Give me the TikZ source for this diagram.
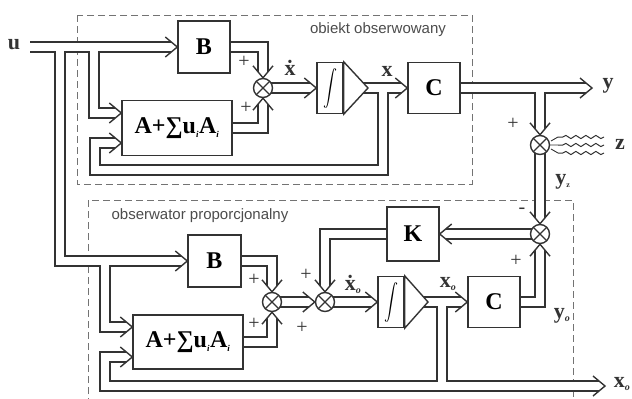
\documentclass[tikz,border=0pt]{standalone}
\usepackage{fontspec}
\setmainfont{Liberation Serif}
\newfontfamily\lsans{Liberation Sans}
\usepackage{graphicx}
\usetikzlibrary{calc,decorations.pathmorphing}
\pgfdeclarelayer{bg}
\pgfsetlayers{bg,main}
\colorlet{ink}{black!80}
\newcommand\chR[1]{\draw[chv] ($(#1)+(-12,-10)$) -- (#1) -- ($(#1)+(-12,10)$);}
\newcommand\chL[1]{\draw[chv] ($(#1)+(12,-10)$) -- (#1) -- ($(#1)+(12,10)$);}
\newcommand\chD[1]{\draw[chv] ($(#1)+(-10,-12)$) -- (#1) -- ($(#1)+(10,-12)$);}
\newcommand\chU[1]{\draw[chv] ($(#1)+(-10,12)$) -- (#1) -- ($(#1)+(10,12)$);}
\newcommand\subi{\textsubscript{\fontsize{9}{9}\selectfont\itshape i}}
\newcommand\subo{\textsubscript{\fontsize{10}{10}\selectfont\itshape o}}
\tikzset{
  blk/.style={draw=ink, line width=1.4pt, fill=white, inner sep=0pt,
    font=\fontsize{24}{24}\selectfont\bfseries},
  vec/.style={draw=ink, line width=1.4pt, double=white, double distance=8.6pt, line join=miter},
  chv/.style={draw=ink, line width=1.4pt, line join=miter},
  sumj/.style={circle, draw=ink, line width=1.4pt, fill=white, minimum size=19pt, inner sep=0pt,
    path picture={\draw[ink, line width=1.1pt]
      (path picture bounding box.north west) -- (path picture bounding box.south east)
      (path picture bounding box.south west) -- (path picture bounding box.north east);}},
  lbl/.style={font=\fontsize{22}{22}\selectfont\bfseries, inner sep=0pt, text=ink},
  pls/.style={font=\fontsize{20}{20}\selectfont, inner sep=0pt, text=ink},
  captxt/.style={font=\lsans\fontsize{15}{15}\selectfont, inner sep=0pt, text=black!70},
  dbox/.style={draw=black!55, line width=0.8pt, dash pattern=on 7pt off 4pt},
  wave/.style={draw=ink, line width=1pt, decorate, decoration={snake, amplitude=1.6pt, segment length=10pt}}
}
\begin{document}
\begin{tikzpicture}[x=1pt, y=-1pt]
\useasboundingbox (0,0) rectangle (632,399);
% upper part
\node[blk, minimum width=52pt, minimum height=52pt] (B1) at (204,47) {B};
\node[blk, minimum width=110pt, minimum height=55pt] (A1) at (177,128) {A+∑u\subi A\subi};
\node[sumj] (S1) at (263,88) {};
\node[blk, minimum width=26pt, minimum height=51pt] (I1) at (330,88) {\scalebox{1.4}[1.8]{$\displaystyle\int$}};
\coordinate (ap1) at (368,88);
\draw[blk] (I1.north east) -- (ap1) -- (I1.south east) -- cycle;
\node[blk, minimum width=52pt, minimum height=51pt] (C1) at (434,88) {C};
\node[sumj] (Sz) at (540,145) {};
\node[sumj] (Sy) at (540,234) {};
\coordinate (pY) at (592,88);
% lower part
\node[blk, minimum width=52pt, minimum height=54pt] (K) at (413,234) {K};
\node[blk, minimum width=53pt, minimum height=52pt] (B2) at (214.5,261) {B};
\node[blk, minimum width=110pt, minimum height=54pt] (A2) at (188,342) {A+∑u\subi A\subi};
\node[sumj] (S2a) at (272,302) {};
\node[sumj] (S2b) at (325,302) {};
\node[blk, minimum width=26pt, minimum height=51pt] (I2) at (391,302) {\scalebox{1.4}[1.8]{$\displaystyle\int$}};
\coordinate (ap2) at (428,302);
\draw[blk] (I2.north east) -- (ap2) -- (I2.south east) -- cycle;
\node[blk, minimum width=52pt, minimum height=51pt] (C2) at (494,302) {C};
\coordinate (pXo) at (605,386);
% arrow apex points
\coordinate (pB1) at (B1.west);
\coordinate (pA1a) at ($(A1.west)+(0,-15)$);
\coordinate (pA1b) at ($(A1.west)+(0,15)$);
\coordinate (pB2) at (B2.west);
\coordinate (pA2a) at ($(A2.west)+(0,-15)$);
\coordinate (pA2b) at ($(A2.west)+(0,15)$);
\begin{pgfonlayer}{bg}
\draw[dbox] (77,15) rectangle (472,184);
\draw[dbox] (88,405) -- (88,200) -- (573,200) -- (573,405);
\draw[vec]
  (30,47) -- ($(pB1)+(-6,0)$)
  (60,47) -- (60,261) -- ($(pB2)+(-6,0)$)
  (94,47) |- ($(pA1a)+(-6,0)$)
  (105,261) |- ($(pA2a)+(-6,0)$)
  (B1.east) -| ($(S1.north)+(0,-6)$)
  (A1.east) -| ($(S1.south)+(0,6)$)
  (S1.center) -- ($(I1.west)+(-6,0)$)
  ($(ap1)+(-5,0)$) -- ($(C1.west)+(-6,0)$)
  (383,88) -- (383,170) -- (95,170) |- ($(pA1b)+(-6,0)$)
  (C1.east) -- ($(pY)+(-6,0)$)
  (540,88) -- ($(Sz.north)+(0,-6)$)
  (Sz.center) -- ($(Sy.north)+(0,-6)$)
  (Sy.center) -- ($(K.east)+(6,0)$)
  (K.west) -| ($(S2b.north)+(0,-6)$)
  (B2.east) -| ($(S2a.north)+(0,-6)$)
  (A2.east) -| ($(S2a.south)+(0,6)$)
  (S2a.center) -- ($(S2b.west)+(-6,0)$)
  (S2b.center) -- ($(I2.west)+(-6,0)$)
  ($(ap2)+(-5,0)$) -- ($(C2.west)+(-6,0)$)
  (442,302) -- (442,386)
  ($(pXo)+(-6,0)$) -- (105,386) |- ($(pA2b)+(-6,0)$)
  (C2.east) -| ($(Sy.south)+(0,6)$);
\chR{pB1} \chR{pA1a} \chR{pA1b} \chR{pB2} \chR{pA2a} \chR{pA2b}
\chD{S1.north} \chU{S1.south} \chR{I1.west} \chR{C1.west} \chR{pY}
\chD{Sz.north} \chD{Sy.north} \chL{K.east} \chD{S2b.north}
\chD{S2a.north} \chU{S2a.south} \chR{S2b.west} \chR{I2.west} \chR{C2.west}
\chR{pXo} \chU{Sy.south}
\end{pgfonlayer}
% disturbance z
\draw[wave] (604,137) -- (558,137);
\draw[wave] (604,145) -- (558,145);
\draw[wave] (604,153) -- (558,153);
\draw[ink, line width=0.9pt] (558,137) -- (551,141) (558,145) -- (550,145) (558,153) -- (551,149);
% labels
\node[lbl] (lu) at (14,45) {u};
\node[lbl] (ly) at (608,86) {y};
\node[lbl] (lz) at (620,144) {z};
\node[lbl] (lxd) at (290,68) {\.x};
\node[lbl] (lx) at (387,71) {x};
\node[lbl] (lyz) at (563,182) {y\textsubscript{\fontsize{8}{8}\selectfont z}};
\node[lbl] (lyo) at (562,316) {y\subo};
\node[lbl] (lxo) at (448,284) {x\subo};
\node[lbl] (lxdo) at (353,284) {\.x\subo};
\node[lbl] (lXo) at (622,384) {x\subo};
\node[captxt] (c1) at (378,30) {obiekt obserwowany};
\node[captxt] (c2) at (200,216) {obserwator proporcjonalny};
\node[pls] (p1) at (244,62) {+};
\node[pls] (p2) at (246,108) {+};
\node[pls] (p3) at (513,124) {+};
\node[pls] (p4) at (522,211) {-};
\node[pls] (p5) at (516,261) {+};
\node[pls] (p6) at (254,280) {+};
\node[pls] (p7) at (254,324) {+};
\node[pls] (p8) at (306,275) {+};
\node[pls] (p9) at (302,328) {+};
\end{tikzpicture}
\end{document}
